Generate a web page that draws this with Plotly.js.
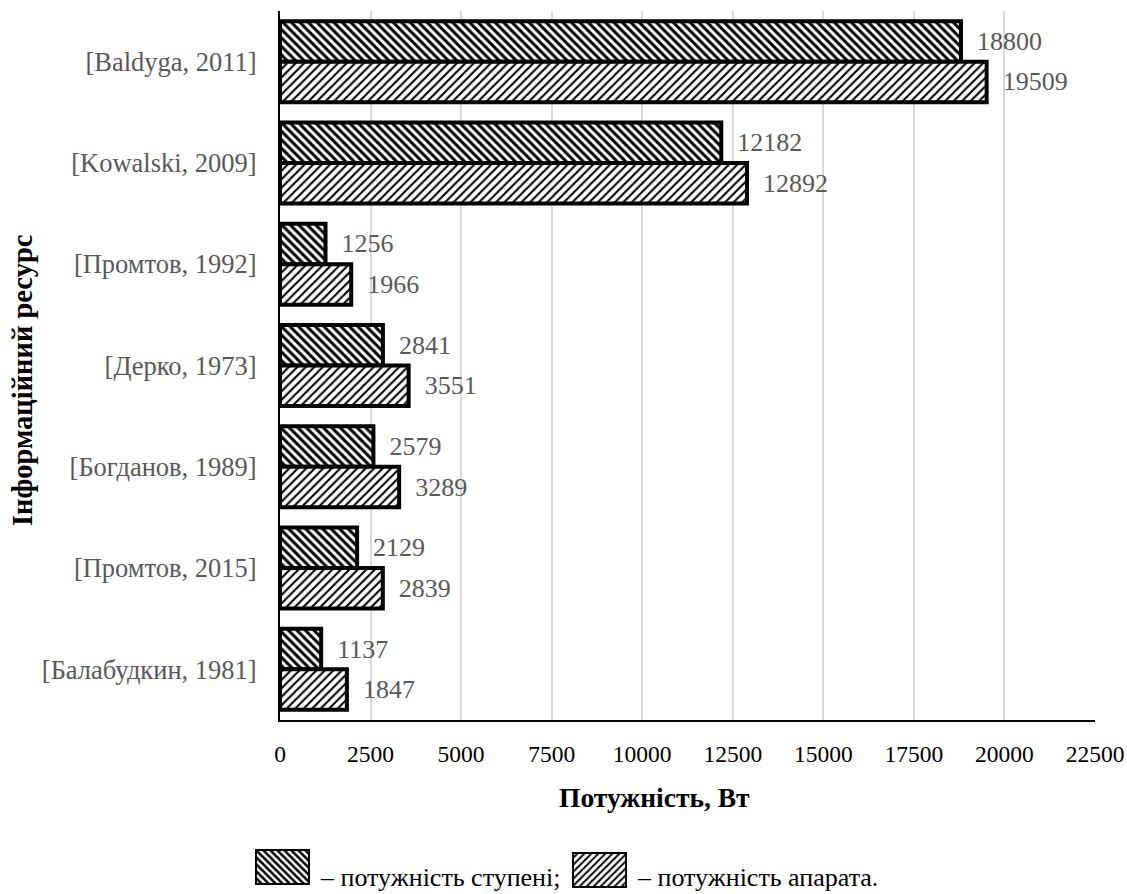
<!DOCTYPE html>
<html>
<head>
<meta charset="utf-8">
<script src="https://cdn.plot.ly/plotly-3.0.1.min.js"></script>
<style>html,body{margin:0;padding:0;background:#fff;}#chart{width:1127px;height:894px;}</style>
</head>
<body>
<div id="chart"></div>
<script>
var categories = ["[Baldyga, 2011]", "[Kowalski, 2009]", "[Промтов, 1992]", "[Дерко, 1973]", "[Богданов, 1989]", "[Промтов, 2015]", "[Балабудкин, 1981]"];
var stagePower = [18800, 12182, 1256, 2841, 2579, 2129, 1137];
var apparatusPower = [19509, 12892, 1966, 3551, 3289, 2839, 1847];
var xTicks = [0, 2500, 5000, 7500, 10000, 12500, 15000, 17500, 20000, 22500];
var seriesNames = ["– потужність ступені;", "– потужність апарата."];
var xTitle = "Потужність, Вт";
var yTitle = "Інформаційний ресурс";

var FONT = "Liberation Serif";

function swatch(back, sw) {
  var d = back ? "M0,0L7,7M-2,5L2,9M5,-2L9,2" : "M0,7L7,0M-2,2L2,-2M5,9L9,5";
  var svg = '<svg xmlns="http://www.w3.org/2000/svg" width="55" height="36" viewBox="0 0 55 36">' +
    '<defs><pattern id="p" width="7" height="7" patternUnits="userSpaceOnUse">' +
    '<rect width="7" height="7" fill="white"/><path d="' + d + '" stroke="black" stroke-width="' + sw + '"/></pattern></defs>' +
    '<rect x="1" y="1" width="53" height="34" fill="url(#p)" stroke="black" stroke-width="2"/></svg>';
  return "data:image/svg+xml;charset=utf-8," + encodeURIComponent(svg);
}

var traces = [
  {
    type: "bar", orientation: "h", name: seriesNames[0],
    y: categories, x: stagePower,
    texttemplate: "\u00A0\u00A0%{x:d}", textposition: "outside", cliponaxis: false,
    constraintext: "none",
    textfont: {family: FONT, size: 26, color: "#595959"},
    marker: {color: "white", line: {color: "black", width: 4},
      pattern: {shape: "\\", fgcolor: "black", bgcolor: "white", size: 6, solidity: 0.5}},
    hoverinfo: "x+y"
  },
  {
    type: "bar", orientation: "h", name: seriesNames[1],
    y: categories, x: apparatusPower,
    texttemplate: "\u00A0\u00A0%{x:d}", textposition: "outside", cliponaxis: false,
    constraintext: "none",
    textfont: {family: FONT, size: 26, color: "#595959"},
    marker: {color: "white", line: {color: "black", width: 4},
      pattern: {shape: "/", fgcolor: "black", bgcolor: "white", size: 6, solidity: 0.35}},
    hoverinfo: "x+y"
  }
];

var layout = {
  width: 1127, height: 894,
  margin: {l: 280, r: 32, t: 11, b: 174},
  paper_bgcolor: "white", plot_bgcolor: "white",
  font: {family: FONT, color: "black"},
  barmode: "group", bargap: 0.2, bargroupgap: 0,
  showlegend: false,
  xaxis: {
    range: [0, 22500], tickvals: xTicks, ticktext: xTicks.map(String),
    showgrid: true, gridcolor: "#d9d9d9", gridwidth: 2,
    zeroline: false, showline: true, linecolor: "black", linewidth: 2,
    ticks: "", tickfont: {family: FONT, size: 23.5, color: "black"},
    ticklabelstandoff: 12,
    automargin: false
  },
  yaxis: {
    autorange: "reversed", type: "category",
    showgrid: false, zeroline: false, showline: true, linecolor: "black", linewidth: 2,
    ticks: "", tickfont: {family: FONT, size: 26.5, color: "#595959"},
    ticklabelstandoff: 16,
    automargin: false
  },
  annotations: [
    {text: "<b>" + xTitle + "</b>", xref: "paper", yref: "paper", x: 0.46, y: -0.110,
     xanchor: "center", yanchor: "middle", showarrow: false,
     font: {family: FONT, size: 27.5, color: "black"}},
    {text: "<b>" + yTitle + "</b>", xref: "paper", yref: "paper", x: -0.3166, y: 0.4795,
     xanchor: "center", yanchor: "middle", showarrow: false, textangle: -90,
     font: {family: FONT, size: 28.5, color: "black"}},
    {text: seriesNames[0], xref: "paper", yref: "paper", x: 0.0466, y: -0.2228,
     xanchor: "left", yanchor: "middle", showarrow: false,
     font: {family: FONT, size: 26, color: "black"}},
    {text: seriesNames[1], xref: "paper", yref: "paper", x: 0.4356, y: -0.2228,
     xanchor: "left", yanchor: "middle", showarrow: false,
     font: {family: FONT, size: 26, color: "black"}}
  ],
  images: [
    {source: swatch(true, 2.6), xref: "paper", yref: "paper", x: -0.0307, y: -0.1819,
     sizex: 0.0675, sizey: 0.0508, sizing: "stretch", xanchor: "left", yanchor: "top", layer: "above"},
    {source: swatch(false, 2), xref: "paper", yref: "paper", x: 0.3583, y: -0.1862,
     sizex: 0.0675, sizey: 0.0508, sizing: "stretch", xanchor: "left", yanchor: "top", layer: "above"}
  ]
};

Plotly.newPlot("chart", traces, layout, {displayModeBar: false, staticPlot: true});
</script>
</body>
</html>
